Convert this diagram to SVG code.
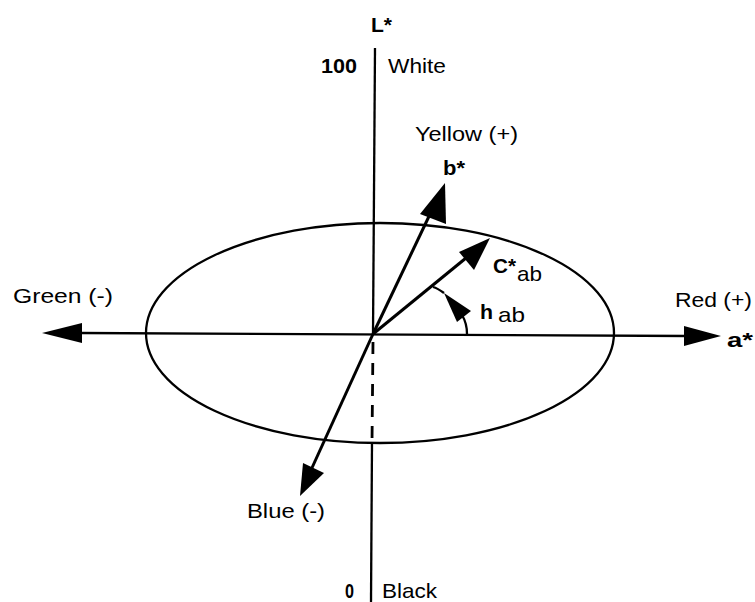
<svg xmlns="http://www.w3.org/2000/svg" width="755" height="602" viewBox="0 0 755 602">
<style>
.ax{stroke:#000;stroke-width:2.3;fill:none}
.vec{stroke:#000;stroke-width:3;fill:none}
.hd{fill:#000;stroke:none}
text{font-family:"Liberation Sans",Arial,sans-serif;fill:#000;font-size:21px}
.b{font-weight:bold}
</style>
<rect width="755" height="602" fill="#fff"/>
<g id="ellipse">
<ellipse cx="380" cy="333" rx="234" ry="110" class="ax"/>
</g>
<g id="connectors">
<line x1="80" y1="333" x2="688" y2="336" class="ax"/>
<polygon class="hd" points="42,333 82,323 82,343"/>
<polygon class="hd" points="721,336 684,326 684,346"/>
<line x1="375" y1="48" x2="373" y2="334" class="ax"/>
<line x1="373" y1="342" x2="372" y2="443" stroke="#000" stroke-width="2.8" stroke-dasharray="12 9"/>
<line x1="372" y1="443" x2="371" y2="602" class="ax"/>
<line x1="373" y1="334" x2="432" y2="210" class="vec"/>
<polygon class="hd" points="445,183 420,214 446,224"/>
<line x1="373" y1="334" x2="466" y2="258" class="vec"/>
<polygon class="hd" points="490,238 459,252 474,270"/>
<line x1="373" y1="334" x2="311" y2="470" class="vec"/>
<polygon class="hd" points="300,496 303,463 324,473"/>
<path d="M467,334 C467,325 465,320 462,315" class="ax"/>
<polygon class="hd" points="444,293 457,322 471,311"/>
<path d="M444,293 C440,290 437,288 433,287" class="ax"/>
</g>
<g id="labels">
<text x="371" y="32" class="b" textLength="21" lengthAdjust="spacingAndGlyphs">L*</text>
<text x="321" y="73" class="b" textLength="36" lengthAdjust="spacingAndGlyphs">100</text>
<text x="388" y="73" textLength="58" lengthAdjust="spacingAndGlyphs">White</text>
<text x="415" y="141" textLength="103" lengthAdjust="spacingAndGlyphs">Yellow (+)</text>
<text x="443" y="175" class="b" textLength="22" lengthAdjust="spacingAndGlyphs">b*</text>
<text x="493" y="273" class="b" textLength="23" lengthAdjust="spacingAndGlyphs">C*</text>
<text x="517" y="281" textLength="25" lengthAdjust="spacingAndGlyphs">ab</text>
<text x="480" y="319" class="b" textLength="13" lengthAdjust="spacingAndGlyphs">h</text>
<text x="498" y="322" textLength="27" lengthAdjust="spacingAndGlyphs">ab</text>
<text x="13" y="303" textLength="100" lengthAdjust="spacingAndGlyphs">Green (-)</text>
<text x="675" y="307" textLength="77" lengthAdjust="spacingAndGlyphs">Red (+)</text>
<text x="727" y="347" class="b" textLength="26" lengthAdjust="spacingAndGlyphs">a*</text>
<text x="247" y="518" textLength="78" lengthAdjust="spacingAndGlyphs">Blue (-)</text>
<text x="345" y="598" class="b" textLength="9" lengthAdjust="spacingAndGlyphs">0</text>
<text x="382" y="598" textLength="55" lengthAdjust="spacingAndGlyphs">Black</text>
</g>
</svg>
